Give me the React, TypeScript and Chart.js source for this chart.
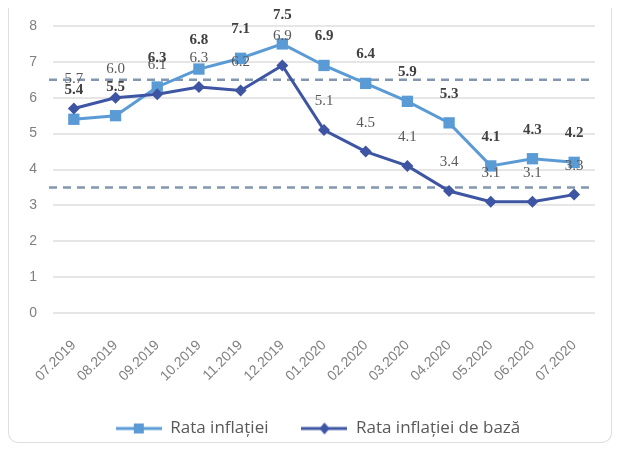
import React, { useEffect, useRef } from "react";
import { Chart, registerables } from "chart.js";

Chart.register(...registerables);

const months = ["07.2019", "08.2019", "09.2019", "10.2019", "11.2019", "12.2019", "01.2020", "02.2020", "03.2020", "04.2020", "05.2020", "06.2020", "07.2020"];
const rataInflatiei = [5.4, 5.5, 6.3, 6.8, 7.1, 7.5, 6.9, 6.4, 5.9, 5.3, 4.1, 4.3, 4.2];
const rataInflatieiDeBaza = [5.7, 6.0, 6.1, 6.3, 6.2, 6.9, 5.1, 4.5, 4.1, 3.4, 3.1, 3.1, 3.3];
const targetBand = [6.5, 3.5];
const seriesNames = ["Rata inflației", "Rata inflației de bază"];

const LIGHT = "#5b9bd5";
const DARK = "#3e55a3";
const BAND = "#8497b0";

function legendIcon(color: string, shape: "square" | "diamond") {
  const c = document.createElement("canvas");
  c.width = 46;
  c.height = 14;
  const ctx = c.getContext("2d")!;
  ctx.strokeStyle = color;
  ctx.lineWidth = 3;
  ctx.beginPath();
  ctx.moveTo(0, 7);
  ctx.lineTo(46, 7);
  ctx.stroke();
  ctx.fillStyle = color;
  if (shape === "square") {
    ctx.fillRect(18, 2, 10, 10);
  } else {
    ctx.beginPath();
    ctx.moveTo(23, 1);
    ctx.lineTo(28, 7);
    ctx.lineTo(23, 13);
    ctx.lineTo(18, 7);
    ctx.closePath();
    ctx.fill();
  }
  return c;
}

const bandPlugin = {
  id: "bandLines",
  beforeDatasetsDraw(chart: any) {
    const { ctx, chartArea, scales } = chart;
    ctx.save();
    ctx.strokeStyle = BAND;
    ctx.lineWidth = 2.5;
    ctx.setLineDash([8, 6]);
    targetBand.forEach((v) => {
      const y = scales.y.getPixelForValue(v);
      ctx.beginPath();
      ctx.moveTo(chartArea.left - 4, y);
      ctx.lineTo(chartArea.right, y);
      ctx.stroke();
    });
    ctx.restore();
  },
};

const labelPlugin = {
  id: "valueLabels",
  afterDatasetsDraw(chart: any) {
    const { ctx } = chart;
    ctx.save();
    ctx.textAlign = "center";
    ctx.textBaseline = "middle";
    chart.data.datasets.forEach((ds: any, i: number) => {
      const meta = chart.getDatasetMeta(i);
      const isLight = ds.label === seriesNames[0];
      ctx.font = isLight ? "bold 15px 'Liberation Serif'" : "15px 'Liberation Serif'";
      ctx.fillStyle = isLight ? "#404040" : "#595959";
      meta.data.forEach((pt: any, j: number) => {
        ctx.fillText(ds.data[j].toFixed(1), pt.x, pt.y - 29);
      });
    });
    ctx.restore();
  },
};

const legendShiftPlugin = {
  id: "legendShift",
  afterLayout(chart: any) {
    if (chart.legend) {
      chart.legend.left += 16;
      chart.legend.right += 16;
    }
  },
};

export default function App() {
  const ref = useRef<HTMLCanvasElement>(null);
  useEffect(() => {
    const chart = new Chart(ref.current!, {
      type: "line",
      data: {
        labels: months,
        datasets: [
          {
            label: seriesNames[1],
            data: rataInflatieiDeBaza,
            borderColor: DARK,
            backgroundColor: DARK,
            borderWidth: 3,
            pointStyle: "rectRot",
            pointRadius: 6,
            pointBorderWidth: 0,
            tension: 0,
          },
          {
            label: seriesNames[0],
            data: rataInflatiei,
            borderColor: LIGHT,
            backgroundColor: LIGHT,
            borderWidth: 3,
            pointStyle: "rect",
            pointRadius: 8,
            pointBorderWidth: 0,
            tension: 0,
          },
        ],
      },
      options: {
        animation: false,
        responsive: true,
        maintainAspectRatio: false,
        layout: { padding: { top: 18, right: 16, left: 0, bottom: -5 } },
        scales: {
          x: {
            offset: true,
            grid: { display: false },
            border: { display: false },
            ticks: {
              maxRotation: 45,
              minRotation: 45,
              color: "#7f7f7f",
              font: { family: "'Liberation Sans'", size: 14 },
              padding: 16,
            },
            afterFit: (s: any) => {
              s.height = 74;
            },
          },
          y: {
            min: 0,
            max: 8,
            grid: { color: "#e6e6e6", lineWidth: 2, drawTicks: false },
            border: { display: false },
            ticks: {
              stepSize: 1,
              color: "#7f7f7f",
              font: { family: "'Liberation Sans'", size: 14 },
              padding: 16,
            },
            afterFit: (s: any) => {
              s.width = 44;
              s.paddingTop = 0;
              s.paddingBottom = 0;
            },
          },
        },
        plugins: {
          legend: {
            position: "bottom",
            reverse: true,
            labels: {
              usePointStyle: true,
              pointStyleWidth: 46,
              color: "#595959",
              font: { family: "'Open Sans'", size: 17 },
              padding: 33,
              generateLabels: (c: any) =>
                c.data.datasets.map((ds: any, i: number) => ({
                  text: ds.label,
                  fillStyle: ds.borderColor,
                  strokeStyle: ds.borderColor,
                  lineWidth: 0,
                  pointStyle: legendIcon(ds.borderColor, ds.pointStyle === "rect" ? "square" : "diamond"),
                  datasetIndex: i,
                  hidden: false,
                  fontColor: "#595959",
                })),
            },
          },
          tooltip: { enabled: false },
        },
      },
      plugins: [bandPlugin, labelPlugin, legendShiftPlugin],
    });
    return () => chart.destroy();
  }, []);
  return (
    <div
      style={{
        width: 602,
        height: 434,
        borderLeft: "1.5px solid #dedede",
        borderRight: "1.5px solid #dedede",
        borderBottom: "1.5px solid #dedede",
        borderRadius: "0 0 10px 10px",
        background: "#fff",
        position: "relative",
      }}
    >
      <canvas ref={ref} />
    </div>
  );
}
